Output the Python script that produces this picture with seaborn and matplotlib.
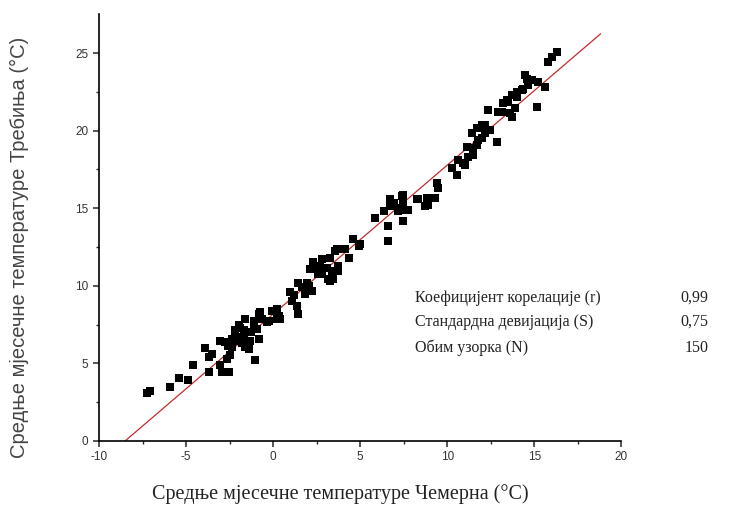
import numpy as np
import pandas as pd
import seaborn as sns
import matplotlib.pyplot as plt

# monthly mean temperatures
cemerno = [
    -7.25, -7.10, -5.91, -5.40, -4.90, -4.58,
    -3.92, -3.71, -3.50, -3.71, -3.04, -2.77, -3.04, -2.94, -2.56, -2.66, -2.47, -2.37,
    -2.18, -2.18, -2.08, -1.99, -1.89, -1.99, -1.70, -1.70, -1.61, -1.61, -1.51, -1.41,
    -1.32, -1.12, -1.12, -1.03, -0.84, -0.84, -0.93, -0.65, -0.75, -0.36, -0.26, -0.07,
    0.21, 0.31, 0.21, 0.40, -2.35, -1.80, -2.60, -1.30,
    0.98, 1.07, 1.17, 1.36, 1.45, 1.45, 1.65, 1.84, 1.93, 2.03, 2.22, 2.12, 2.31, 2.31,
    2.60, 2.70, 2.79, 2.79, 3.08, 3.17, 3.27, 3.27, 3.37, 3.46, 3.56, 3.75, 3.75, 3.65,
    4.13, 4.33, 4.61, 4.90, 5.00,
    5.86, 6.34, 6.62, 6.62, 6.71, 6.71, 6.91, 7.19, 7.29, 7.38, 7.48, 7.48, 7.48, 7.57,
    7.76, 8.24, 8.34,
    8.72, 8.82, 8.91, 9.29, 9.39, 9.48, 10.25, 10.54, 10.63, 10.92, 11.02,
    11.11, 11.21, 11.40, 11.50, 11.50, 11.69, 11.69, 11.78, 11.78, 11.97, 11.97, 12.16,
    12.16, 12.45, 12.36, 12.83, 12.93, 13.12, 13.22, 13.41,
    13.50, 13.60, 13.70, 13.70, 13.89, 13.98, 13.98, 14.27, 14.36, 14.46, 14.56, 14.65,
    14.84, 15.23, 15.13, 15.61, 15.80, 16.00, 16.28,
]
trebinje = [
    3.10, 3.20, 3.46, 4.08, 3.90, 4.90,
    6.00, 5.40, 5.62, 4.44, 6.47, 6.40, 4.87, 4.44, 4.44, 5.30, 5.51, 6.04,
    7.12, 6.90, 6.47, 6.69, 7.26, 7.44, 7.12, 6.69, 7.87, 6.04, 6.26, 5.94,
    6.47, 7.54, 7.76, 5.19, 6.58, 8.18, 7.22, 7.87, 8.29, 7.67, 7.76, 8.40,
    7.87, 8.08, 8.50, 7.87, 6.60, 6.30, 6.10, 7.00,
    9.57, 9.04, 9.40, 8.72, 8.18, 10.21, 9.90, 9.47, 10.21, 10.00, 9.68, 11.07, 11.50, 11.07,
    10.75, 11.28, 11.71, 10.75, 11.17, 10.43, 10.32, 11.82, 10.96, 10.43, 12.24, 11.28, 10.96, 12.35,
    12.35, 11.82, 12.99, 12.56, 12.70,
    14.38, 14.81, 13.85, 12.88, 15.56, 15.13, 15.34, 14.81, 15.02, 15.77, 15.88, 15.34, 14.17, 14.91,
    14.91, 15.56, 15.56,
    15.13, 15.66, 15.23, 15.66, 16.62, 16.33, 17.58, 17.16, 18.12, 17.91, 17.80,
    18.97, 18.33, 19.84, 18.87, 18.44, 20.16, 19.08, 20.16, 19.40, 20.37, 19.52, 20.38,
    19.84, 20.05, 21.32, 19.28, 21.22, 21.22, 21.75, 21.96,
    21.86, 21.11, 20.90, 22.28, 21.43, 22.18, 22.50, 22.61, 22.71, 23.57, 23.35, 22.93,
    23.25, 23.14, 21.54, 22.82, 24.42, 24.74, 25.06,
]

# fitted line as drawn in the reference
fit_slope = 0.961
fit_intercept = 8.17
fit_x_range = [-8.5, 18.8]

stat_labels = ["Коефицијент корелације (r)", "Стандардна девијација (S)", "Обим узорка (N)"]
stat_values = ["0,99", "0,75", "150"]

df = pd.DataFrame({"cemerno": cemerno, "trebinje": trebinje})
line_x = np.array(fit_x_range)
line_df = pd.DataFrame({"x": line_x, "y": fit_slope * line_x + fit_intercept})

sns.set_style("ticks")
plt.rcParams["font.family"] = ["Liberation Sans", "DejaVu Sans"]
plt.rcParams["axes.unicode_minus"] = False

fig = plt.figure(figsize=(7.39, 5.08), dpi=100)
ax = fig.add_axes([0.134, 0.132, 0.707, 0.840])

sns.lineplot(data=line_df, x="x", y="y", ax=ax, color="#c62a2a", linewidth=0.9, zorder=1)
sns.scatterplot(data=df, x="cemerno", y="trebinje", ax=ax, marker="s", s=36,
                color="black", edgecolor="black", linewidth=0, zorder=2)

ax.set_xlim(-10, 20)
ax.set_ylim(0, 27.5)
ax.set_xticks(range(-10, 21, 5))
ax.set_yticks(range(0, 26, 5))
ax.set_xticks(np.arange(-7.5, 20, 5), minor=True)
ax.set_yticks(np.arange(2.5, 27.5, 5), minor=True)
ax.tick_params(which="major", length=4, width=1.1, labelsize=8.5, labelcolor="#333333")
ax.tick_params(which="minor", length=2.5, width=1.0)
sns.despine(ax=ax)
for side in ["left", "bottom"]:
    ax.spines[side].set_linewidth(1.2)
    ax.spines[side].set_color("black")

ax.set_xlabel("Средње мјесечне температуре Чемерна (°C)", family="Liberation Serif",
              fontsize=14.5, color="#222222")
ax.xaxis.set_label_coords(0.461, -0.101)
ax.set_ylabel("Средње мјесечне температуре Требиња (°C)", fontsize=14.5, color="#444444")
ax.yaxis.set_label_coords(-0.134, 0.454)

rows_y = [0.335, 0.279, 0.218]
for lab, val, yy in zip(stat_labels, stat_values, rows_y):
    ax.text(0.605, yy, lab, transform=ax.transAxes, family="Liberation Serif",
            fontsize=11.5, va="center", ha="left", color="#222222")
    ax.text(1.167, yy, val, transform=ax.transAxes, family="Liberation Serif",
            fontsize=11.5, va="center", ha="right", color="#222222", clip_on=False)

fig.savefig("out.png", dpi=100)
